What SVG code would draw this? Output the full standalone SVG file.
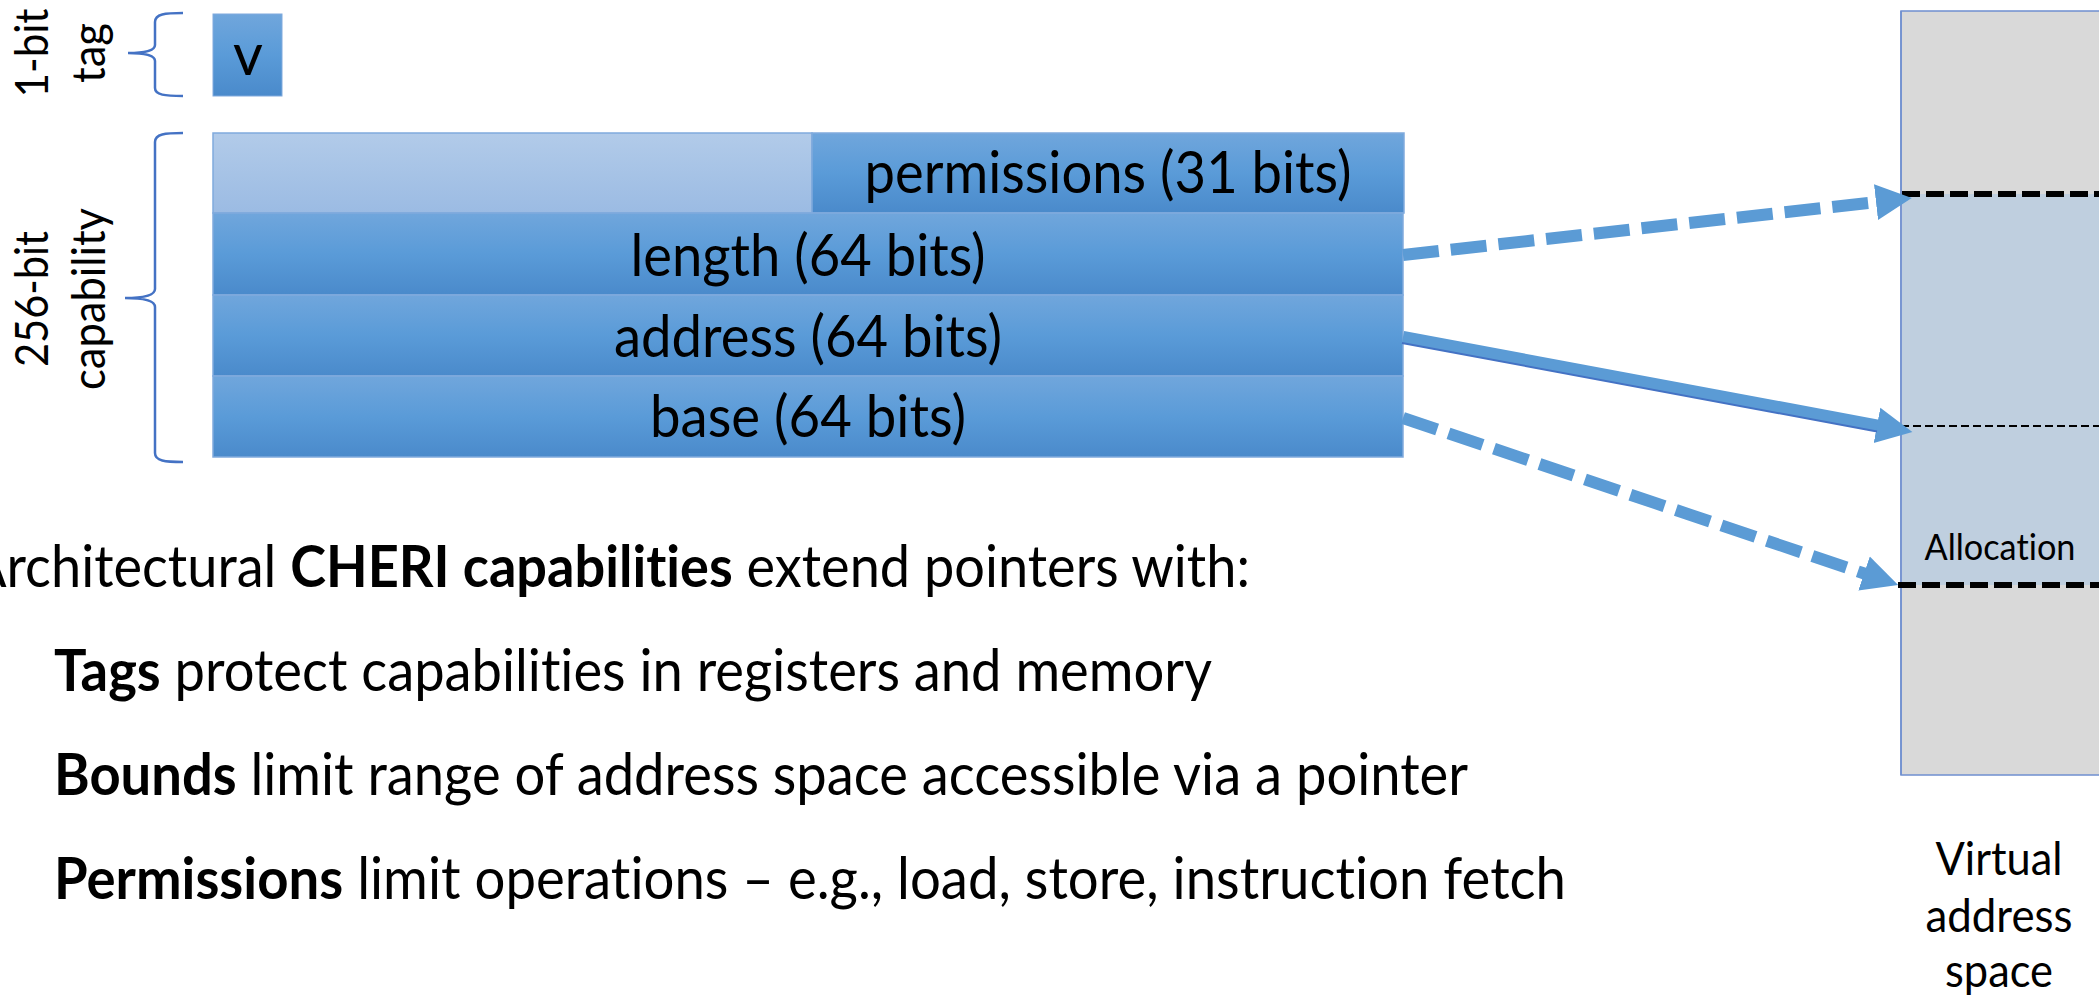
<svg xmlns="http://www.w3.org/2000/svg" width="2099" height="997" viewBox="0 0 2099 997">
  <style>
    .t { font-family: Lato, "Open Sans", "Liberation Sans", sans-serif; fill: #000; font-variant-ligatures: none; }
    .b { font-weight: bold; }
    .row { stroke: #80aadd; stroke-width: 1.5; }
    .brace { fill: none; stroke: #4472c4; stroke-width: 2.5; }
    .arrow { fill: none; stroke: #5b9bd5; stroke-width: 12; }
    .dash { stroke-dasharray: 36 12; }
  </style>
  <defs>
    <linearGradient id="blue" x1="0" y1="0" x2="0" y2="1">
      <stop offset="0" stop-color="#70a6dc"/>
      <stop offset="0.5" stop-color="#5a9bd8"/>
      <stop offset="1" stop-color="#4a8acb"/>
    </linearGradient>
    <linearGradient id="pale" x1="0" y1="0" x2="0" y2="1">
      <stop offset="0" stop-color="#b2cbe9"/>
      <stop offset="1" stop-color="#9bbbe3"/>
    </linearGradient>
    <marker id="ah" markerUnits="userSpaceOnUse" markerWidth="40" markerHeight="40" viewBox="0 -20 40 40" refX="1" refY="0" orient="auto">
      <path d="M0,-18 L36,0 L0,18 z" fill="#5b9bd5"/>
    </marker>
  </defs>

  <!-- 1-bit tag label -->
  <g id="tag-label">
    <text class="t" font-size="46.7" text-anchor="middle" textLength="89" lengthAdjust="spacingAndGlyphs" transform="translate(48,53) rotate(-90)">1-bit</text>
    <text class="t" font-size="46.7" text-anchor="middle" textLength="60" lengthAdjust="spacingAndGlyphs" transform="translate(105,53) rotate(-90)">tag</text>
    <path class="brace" d="M183,13 C165,13 155,14 155,22 L155,45 C155,51 145,53 128,53 C145,53 155,55 155,61 L155,88 C155,95 165,96 183,96"/>
  </g>

  <!-- v tag box -->
  <g id="tag-box">
    <rect x="213" y="14" width="69" height="82" fill="url(#blue)" stroke="#80aadd" stroke-width="1"/>
    <text class="t" x="248" y="75" font-size="58" text-anchor="middle">v</text>
  </g>

  <!-- 256-bit capability label -->
  <g id="cap-label">
    <text class="t" font-size="46.7" text-anchor="middle" textLength="136" lengthAdjust="spacingAndGlyphs" transform="translate(48,299) rotate(-90)">256-bit</text>
    <text class="t" font-size="46.7" text-anchor="middle" textLength="182" lengthAdjust="spacingAndGlyphs" transform="translate(105,299) rotate(-90)">capability</text>
    <path class="brace" d="M183,133 C165,133 155,134 155,142 L155,289 C155,295 145,298 125,298 C145,298 155,301 155,307 L155,453 C155,461 165,462 183,462"/>
  </g>

  <!-- capability rows -->
  <g id="capability">
    <g id="permissions">
      <rect class="row" x="213" y="133" width="599" height="80" fill="url(#pale)"/>
      <rect class="row" x="812" y="133" width="592" height="80" fill="url(#blue)"/>
      <text class="t" x="1108" y="193" font-size="58" text-anchor="middle" textLength="487" lengthAdjust="spacingAndGlyphs">permissions (31 bits)</text>
    </g>
    <g id="length">
      <rect class="row" x="213" y="213" width="1190" height="82" fill="url(#blue)"/>
      <text class="t" x="808" y="276" font-size="58" text-anchor="middle" textLength="355" lengthAdjust="spacingAndGlyphs">length (64 bits)</text>
    </g>
    <g id="address">
      <rect class="row" x="213" y="295" width="1190" height="81" fill="url(#blue)"/>
      <text class="t" x="808" y="357" font-size="58" text-anchor="middle" textLength="388" lengthAdjust="spacingAndGlyphs">address (64 bits)</text>
    </g>
    <g id="base">
      <rect class="row" x="213" y="376" width="1190" height="81" fill="url(#blue)"/>
      <text class="t" x="808" y="437" font-size="58" text-anchor="middle" textLength="316" lengthAdjust="spacingAndGlyphs">base (64 bits)</text>
    </g>
  </g>

  <!-- virtual address space -->
  <g id="address-space">
    <rect x="1901" y="11" width="210" height="764" fill="#d9d9d9" stroke="#6f8fcf" stroke-width="1.5"/>
    <rect x="1901.75" y="194" width="210" height="391" fill="#bfcfdf"/>
    <line x1="1901" y1="11" x2="1901" y2="775" stroke="#6f8fcf" stroke-width="1.5"/>
    <line x1="1902" y1="194" x2="2099" y2="194" stroke="#000" stroke-width="6" stroke-dasharray="18 6"/>
    <line x1="1901" y1="426" x2="2099" y2="426" stroke="#000" stroke-width="2" stroke-dasharray="8 4"/>
    <line x1="1898" y1="585" x2="2099" y2="585" stroke="#000" stroke-width="6" stroke-dasharray="18 6"/>
    <text class="t" x="2000" y="560" font-size="37.3" text-anchor="middle" textLength="151" lengthAdjust="spacingAndGlyphs">Allocation</text>
    <text class="t" x="1999" y="875" font-size="46.7" text-anchor="middle" textLength="127" lengthAdjust="spacingAndGlyphs">Virtual</text>
    <text class="t" x="1999" y="932" font-size="46.7" text-anchor="middle" textLength="147" lengthAdjust="spacingAndGlyphs">address</text>
    <text class="t" x="1999" y="987" font-size="46.7" text-anchor="middle" textLength="108" lengthAdjust="spacingAndGlyphs">space</text>
  </g>

  <!-- connectors -->
  <g id="connectors">
    <line class="arrow dash" x1="1403" y1="255" x2="1877" y2="202" marker-end="url(#ah)"/>
    <line class="arrow" x1="1403" y1="337" x2="1878" y2="425.6" marker-end="url(#ah)"/>
    <line x1="1402" y1="343" x2="1877" y2="431.5" stroke="#4472c4" stroke-width="2"/>
    <line class="arrow dash" x1="1403" y1="418" x2="1865" y2="573.8" marker-end="url(#ah)"/>
  </g>

  <!-- explanatory text -->
  <g id="description">
    <text class="t" x="-30" y="587" font-size="58" textLength="1280" lengthAdjust="spacingAndGlyphs">Architectural <tspan class="b">CHERI capabilities</tspan> extend pointers with:</text>
    <text class="t" x="54" y="691" font-size="58" textLength="1158" lengthAdjust="spacingAndGlyphs"><tspan class="b">Tags</tspan> protect capabilities in registers and memory</text>
    <text class="t" x="54" y="795" font-size="58" textLength="1414" lengthAdjust="spacingAndGlyphs"><tspan class="b">Bounds</tspan> limit range of address space accessible via a pointer</text>
    <text class="t" x="54" y="899" font-size="58" textLength="1512" lengthAdjust="spacingAndGlyphs"><tspan class="b">Permissions</tspan> limit operations – e.g., load, store, instruction fetch</text>
  </g>
</svg>
